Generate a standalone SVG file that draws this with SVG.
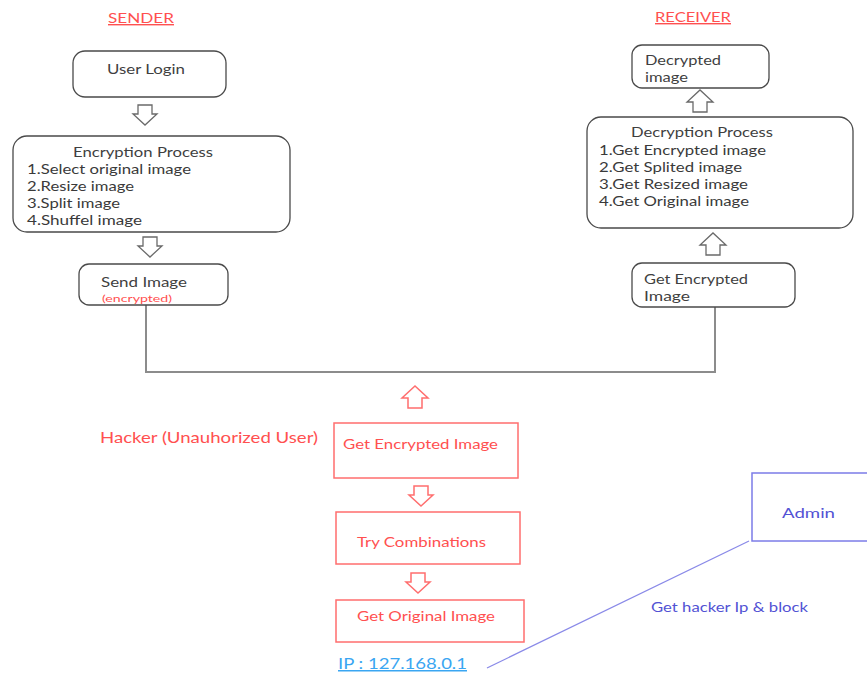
<svg xmlns="http://www.w3.org/2000/svg" width="867" height="675" viewBox="0 0 867 675">
<style>
  text { font-family: Lato, "Open Sans", "Liberation Sans", sans-serif; }
  .t { fill: #3f3f3f; font-size: 14px; }
  .l { fill: #3a3a3a; font-size: 13.5px; }
  .r { fill: #ff5050; }
  .b { fill: #5252d4; font-size: 14px; }
  .box { fill: #ffffff; stroke: #4a4a4a; stroke-width: 1.3; }
  .rbox { fill: #ffffff; stroke: #ff6e6e; stroke-width: 1.5; }
  .abox { fill: #ffffff; stroke: #7c7ce8; stroke-width: 1.5; }
  .ga { fill: #ffffff; stroke: #6a6a6a; stroke-width: 1.3; }
  .ra { fill: #ffffff; stroke: #ff6e6e; stroke-width: 1.5; }
  .wire { fill: none; stroke: #8c8c8c; stroke-width: 2; }
  .bwire { fill: none; stroke: #8a8ae8; stroke-width: 1.3; }
</style>
<defs>
  <path id="adown" d="M-7,0 h14 v9 h5 l-12,11 l-12,-11 h5 z"/>
  <path id="aup" d="M-7,22 h14 v-10 h6 l-13,-12 l-13,12 h6 z"/>
</defs>

<g id="sender-title">
  <text x="108" y="23" class="r" font-size="14" text-decoration="underline" textLength="66" lengthAdjust="spacingAndGlyphs">SENDER</text>
</g>
<g id="receiver-title">
  <text x="655" y="22" class="r" font-size="14" text-decoration="underline" textLength="76" lengthAdjust="spacingAndGlyphs">RECEIVER</text>
</g>

<g id="connectors">
  <polyline class="wire" points="146,305 146,372 715,372 715,307"/>
  <line class="bwire" x1="487" y1="668" x2="749" y2="541"/>
  <use href="#adown" x="145" y="105" class="ga"/>
  <use href="#adown" x="150" y="237" class="ga"/>
  <use href="#aup" x="700" y="90" class="ga"/>
  <use href="#aup" x="713" y="233" class="ga"/>
  <use href="#aup" x="415" y="386" class="ra"/>
  <use href="#adown" x="421" y="486" class="ra"/>
  <use href="#adown" x="418" y="573" class="ra"/>
</g>

<g id="user-login">
  <rect class="box" x="73" y="51" width="153" height="46" rx="12"/>
  <text x="107" y="74" class="t" textLength="78" lengthAdjust="spacingAndGlyphs">User Login</text>
</g>

<g id="encryption-process">
  <rect class="box" x="13" y="136" width="277" height="96" rx="14"/>
  <text x="73" y="157" class="t" textLength="140" lengthAdjust="spacingAndGlyphs">Encryption Process</text>
  <text x="27" y="174" class="l" textLength="164" lengthAdjust="spacingAndGlyphs">1.Select original image</text>
  <text x="27" y="191" class="l" textLength="107" lengthAdjust="spacingAndGlyphs">2.Resize image</text>
  <text x="27" y="208" class="l" textLength="93" lengthAdjust="spacingAndGlyphs">3.Split image</text>
  <text x="27" y="225" class="l" textLength="115" lengthAdjust="spacingAndGlyphs">4.Shuffel image</text>
</g>

<g id="send-image">
  <rect class="box" x="79" y="264" width="149" height="41" rx="10"/>
  <text x="101" y="287" class="t" textLength="86" lengthAdjust="spacingAndGlyphs">Send Image</text>
  <text x="102" y="302" class="r" font-size="9.5" textLength="70" lengthAdjust="spacingAndGlyphs">(encrypted)</text>
</g>

<g id="decrypted-image">
  <rect class="box" x="632" y="45" width="137" height="43" rx="10"/>
  <text x="645" y="65" class="t" textLength="76" lengthAdjust="spacingAndGlyphs">Decrypted</text>
  <text x="645" y="82" class="t" textLength="43" lengthAdjust="spacingAndGlyphs">image</text>
</g>

<g id="decryption-process">
  <rect class="box" x="587" y="117" width="266" height="111" rx="14"/>
  <text x="631" y="137" class="t" textLength="142" lengthAdjust="spacingAndGlyphs">Decryption Process</text>
  <text x="599" y="155" class="l" textLength="167" lengthAdjust="spacingAndGlyphs">1.Get Encrypted image</text>
  <text x="599" y="172" class="l" textLength="143" lengthAdjust="spacingAndGlyphs">2.Get Splited image</text>
  <text x="599" y="189" class="l" textLength="149" lengthAdjust="spacingAndGlyphs">3.Get Resized image</text>
  <text x="599" y="206" class="l" textLength="150" lengthAdjust="spacingAndGlyphs">4.Get Original image</text>
</g>

<g id="get-encrypted-image-receiver">
  <rect class="box" x="632" y="263" width="163" height="44" rx="10"/>
  <text x="644" y="284" class="t" textLength="104" lengthAdjust="spacingAndGlyphs">Get Encrypted</text>
  <text x="644" y="301" class="t" textLength="46" lengthAdjust="spacingAndGlyphs">Image</text>
</g>

<g id="hacker-label">
  <text x="100" y="443" class="r" font-size="15" textLength="218" lengthAdjust="spacingAndGlyphs">Hacker (Unauhorized User)</text>
</g>

<g id="hacker-get-encrypted">
  <rect class="rbox" x="334" y="423" width="184" height="55"/>
  <text x="343" y="449" class="r" font-size="13.5" textLength="155" lengthAdjust="spacingAndGlyphs">Get Encrypted Image</text>
</g>

<g id="try-combinations">
  <rect class="rbox" x="336" y="512" width="184" height="52"/>
  <text x="357" y="547" class="r" font-size="13.5" textLength="129" lengthAdjust="spacingAndGlyphs">Try Combinations</text>
</g>

<g id="get-original-image">
  <rect class="rbox" x="336" y="600" width="188" height="42"/>
  <text x="357" y="621" class="r" font-size="13.5" textLength="138" lengthAdjust="spacingAndGlyphs">Get Original Image</text>
</g>

<g id="ip-label">
  <text x="338" y="669" font-size="15" fill="#3aa6f2" text-decoration="underline" textLength="129" lengthAdjust="spacingAndGlyphs">IP : 127.168.0.1</text>
</g>

<g id="admin">
  <rect class="abox" x="752" y="473" width="120" height="68"/>
  <text x="782" y="518" class="b" textLength="53" lengthAdjust="spacingAndGlyphs">Admin</text>
</g>

<g id="block-label">
  <text x="651" y="612" class="b" textLength="157" lengthAdjust="spacingAndGlyphs">Get hacker Ip &amp; block</text>
</g>
</svg>
